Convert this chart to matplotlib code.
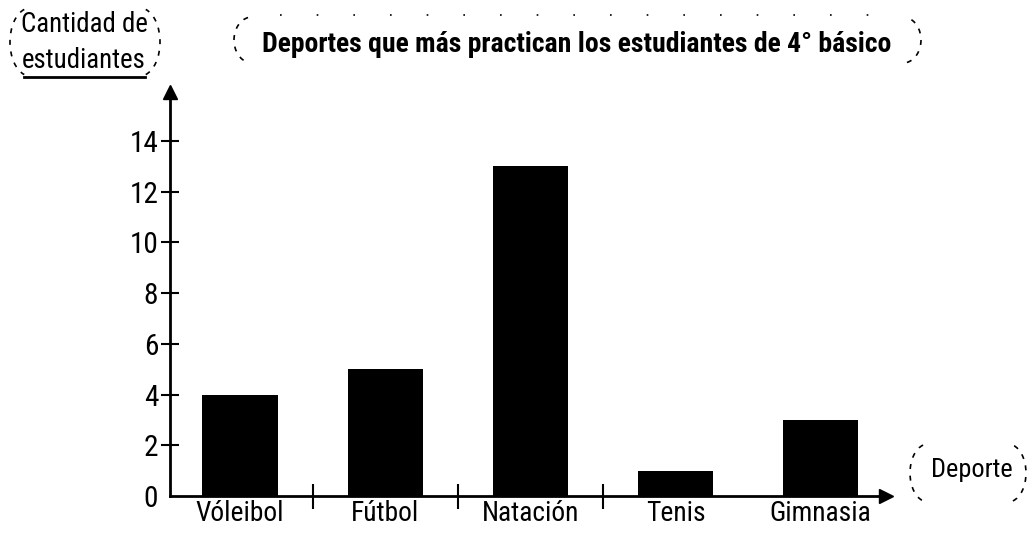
import matplotlib
matplotlib.use("Agg")
import matplotlib.pyplot as plt
from matplotlib import font_manager
from matplotlib.patches import Arc

deportes = ["Vóleibol", "Fútbol", "Natación", "Tenis", "Gimnasia"]
estudiantes = [4, 5, 13, 1, 3]
y_ticks = [0, 2, 4, 6, 8, 10, 12, 14]

# pick the narrowest sans available
fonts = font_manager.fontManager.ttflist
names = {f.name for f in fonts}
stretch = "normal"
family = "Liberation Sans"
for cand in ["Liberation Sans Narrow", "Roboto Condensed", "Open Sans Condensed"]:
    if cand in names:
        family = cand
        break
else:
    if any(f.name == "DejaVu Sans" and f.stretch == "condensed" for f in fonts):
        family, stretch = "DejaVu Sans", "condensed"
plt.rcParams["font.family"] = [family, "DejaVu Sans"]
plt.rcParams["font.stretch"] = stretch

W, H = 1032, 533
fig = plt.figure(figsize=(W / 100, H / 100), dpi=100)
renderer = fig.canvas.get_renderer()


def fit(t, target):
    # scale font size so the text is target px wide
    w = t.get_window_extent(renderer).width
    t.set_fontsize(t.get_fontsize() * target / w)
    return t.get_fontsize()


# axes placed so the y axis sits at x=170 px, baseline at y=496 px
ax = fig.add_axes([170 / W, (H - 496) / H, (886 - 170) / W, (496 - 92) / H])
ax.bar(range(len(deportes)), estudiantes, width=0.52, color="black")
ax.set_xlim(-0.483, 4.45)
ax.set_ylim(0, 404 / 25.36)

for s in ["top", "right"]:
    ax.spines[s].set_visible(False)
for s in ["left", "bottom"]:
    ax.spines[s].set_linewidth(2)
ax.plot(1, 0, ">k", ms=10, transform=ax.transAxes, clip_on=False)
ax.plot(0, 1, "^k", ms=10, transform=ax.transAxes, clip_on=False)

probe = fig.text(0, 0, "14", fontsize=20)
ysize = fit(probe, 29)
probe.remove()
probe = fig.text(0, 0, "Vóleibol", fontsize=20)
xsize = fit(probe, 88)
probe.remove()

ax.set_yticks(y_ticks)
ax.set_yticklabels([str(v) for v in y_ticks], fontsize=ysize)
ax.tick_params(axis="y", direction="inout", length=13, width=1.5, pad=2)
ax.get_yticklines()[0].set_visible(False)

ax.set_xticks(range(len(deportes)))
ax.set_xticklabels(deportes, fontsize=xsize)
ax.set_xticks([0.5, 1.5, 2.5], minor=True)
ax.tick_params(axis="x", which="major", length=0, pad=3)
ax.tick_params(axis="x", which="minor", direction="inout", length=18, width=1.5)

# title
t = fig.text(577 / W, 1 - 45 / H, "Deportes que más practican los estudiantes de 4° básico",
             ha="center", va="center", fontsize=18, fontweight="bold")
fit(t, 631)

# y label
t1 = fig.text(84 / W, 1 - 24 / H, "Cantidad de", ha="center", va="center", fontsize=18)
s1 = fit(t1, 127)
fig.text(84 / W, 1 - 60 / H, "estudiantes", ha="center", va="center", fontsize=s1)
fig.add_artist(plt.Line2D([24 / W, 145 / W], [1 - 77 / H] * 2, color="black", lw=2))

# x label
t2 = fig.text(972 / W, 1 - 470 / H, "Deporte", ha="center", va="center", fontsize=18)
fit(t2, 82)


# dashed brackets drawn in pixel coords
def bracket(cx, cy, w, h, side):
    t1, t2 = (100, 260) if side == "left" else (-80, 80)
    arc = Arc((cx, H - cy), w, h, theta1=t1, theta2=t2, transform=None,
              color="black", lw=1.2, ls=(0, (3, 4)))
    fig.add_artist(arc)


bracket(30, 42, 40, 68, "left")
bracket(140, 42, 40, 68, "right")
bracket(252, 40, 36, 46, "left")
bracket(903, 40, 36, 46, "right")
bracket(928, 473, 36, 58, "left")
bracket(1008, 473, 36, 58, "right")

fig.add_artist(plt.Line2D([280 / W, 890 / W], [1 - 15 / H] * 2, color="black",
                          lw=1.2, ls=(0, (1, 21))))

fig.savefig("out.png", dpi=100)
